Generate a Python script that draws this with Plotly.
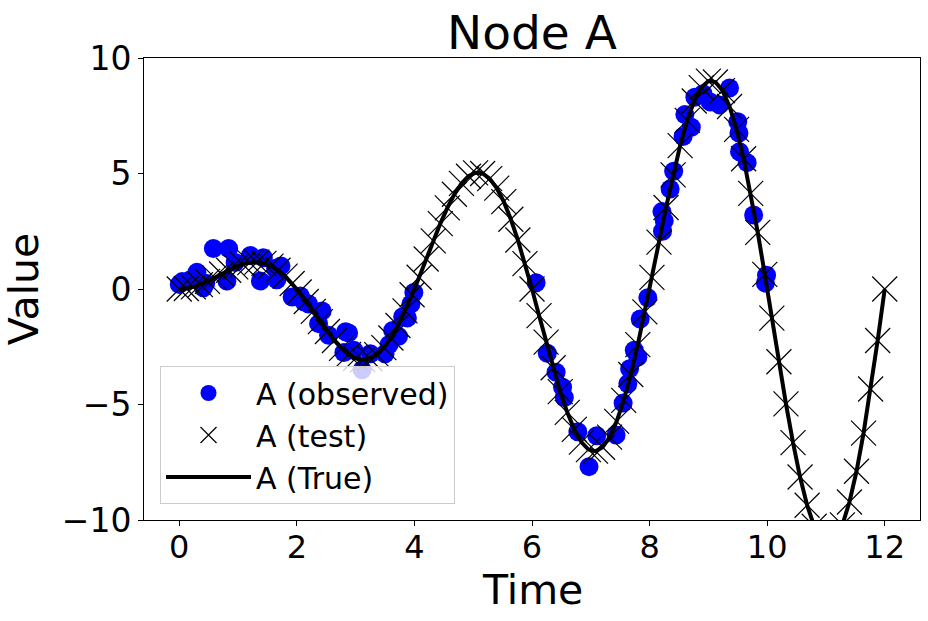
import plotly.graph_objects as go

# ---- data ----
obs_t = [0.00, 0.05, 0.19, 0.30, 0.41, 0.45, 0.58, 0.81, 0.84, 0.95,
         1.21, 1.38, 1.43, 1.64, 1.66, 1.73, 1.92, 2.06, 2.12, 2.20,
         2.37, 2.43, 2.54, 2.80, 2.83, 2.88, 2.97, 3.11, 3.25, 3.50,
         3.57, 3.63, 3.73, 3.80, 3.88, 3.94, 3.99,
         6.07, 6.26, 6.41, 6.52, 6.55, 6.78, 6.97, 7.10, 7.43, 7.55,
         7.63, 7.66, 7.74, 7.80, 7.84, 7.97, 8.21, 8.22, 8.25, 8.35,
         8.41, 8.57, 8.60, 8.71, 8.77, 8.91, 9.03, 9.19, 9.36, 9.50,
         9.52, 9.53, 9.66, 9.77, 9.97, 9.99]
obs_y = [0.20, 0.32, 0.40, 0.72, 0.05, 0.25, 1.75, 0.35, 1.75, 1.15,
         1.45, 0.35, 1.35, 0.90, 0.40, 1.00, -0.35, -0.30, -0.55, -0.65,
         -1.50, -0.95, -2.00, -2.75, -1.85, -1.90, -2.65, -3.50, -2.80, -2.80,
         -2.40, -1.80, -2.05, -1.20, -1.25, -0.65, -0.15,
         0.27, -2.78, -3.60, -4.25, -4.70, -6.18, -7.69, -6.35, -6.32, -4.94,
         -4.10, -3.45, -2.65, -2.95, -1.30, -0.38, 3.35, 2.50, 2.95, 4.33,
         5.10, 6.60, 7.55, 7.00, 8.30, 8.45, 8.10, 7.97, 8.70, 7.24,
         6.75, 5.94, 5.47, 3.20, 0.26, 0.60]

test_t = [0.00, 0.12, 0.24, 0.36, 0.48, 0.60, 0.72, 0.84, 0.96, 1.08,
          1.20, 1.32, 1.44, 1.56, 1.68, 1.80, 1.92, 2.04, 2.16, 2.28,
          2.40, 2.52, 2.64, 2.76, 2.88, 3.00, 3.12, 3.24, 3.36, 3.48,
          3.60, 3.72, 3.84, 3.96, 4.08, 4.20, 4.32, 4.44, 4.56, 4.68,
          4.80, 4.92, 5.04, 5.16, 5.28, 5.40, 5.52, 5.64, 5.76, 5.88,
          6.00, 6.12, 6.24, 6.36, 6.48, 6.60, 6.72, 6.84, 6.96, 7.08,
          7.20, 7.32, 7.44, 7.56, 7.68, 7.80, 7.92, 8.04, 8.16, 8.28,
          8.40, 8.52, 8.64, 8.76, 8.88, 9.00, 9.12, 9.24, 9.36, 9.48,
          9.60, 9.72, 9.84, 9.96, 10.08, 10.20, 10.32, 10.44, 10.56, 10.68,
          10.80, 10.92, 11.04, 11.16, 11.28, 11.40, 11.52, 11.64, 11.76, 11.88,
          12.00]
test_y = [0.00, 0.02, 0.09, 0.19, 0.33, 0.49, 0.65, 0.81, 0.96, 1.07,
          1.14, 1.16, 1.11, 0.99, 0.81, 0.56, 0.24, -0.13, -0.54, -0.97,
          -1.41, -1.84, -2.23, -2.57, -2.83, -3.00, -3.06, -3.01, -2.84, -2.54,
          -2.12, -1.58, -0.95, -0.25, 0.51, 1.30, 2.08, 2.83, 3.51, 4.10,
          4.57, 4.88, 5.03, 5.00, 4.78, 4.37, 3.78, 3.02, 2.12, 1.10,
          0.00, -1.15, -2.30, -3.41, -4.44, -5.34, -6.08, -6.63, -6.95, -7.02,
          -6.85, -6.41, -5.73, -4.82, -3.70, -2.41, -0.99, 0.50, 2.03, 3.53,
          4.94, 6.21, 7.30, 8.14, 8.72, 9.00, 8.96, 8.59, 7.90, 6.91,
          5.64, 4.14, 2.45, 0.63, -1.26, -3.15, -4.97, -6.65, -8.14, -9.36,
          -10.27, -10.83, -11.02, -10.81, -10.21, -9.22, -7.89, -6.24, -4.33, -2.23,
          0.00]

true_t = test_t
true_y = test_y

x_ticks = [0, 2, 4, 6, 8, 10, 12]
y_ticks = [-10, -5, 0, 5, 10]

FONT = "DejaVu Sans"

fig = go.Figure()
fig.add_trace(go.Scatter(
    x=obs_t, y=obs_y, mode="markers", name="A (observed)",
    marker=dict(symbol="circle", size=19, color="#0000ff", line=dict(width=0)),
))
fig.add_trace(go.Scatter(
    x=test_t, y=test_y, mode="markers", name="A (test)",
    marker=dict(symbol="x-thin", size=25, color="black",
                line=dict(width=1.2, color="black")),
))
fig.add_trace(go.Scatter(
    x=true_t, y=true_y, mode="lines", name="A (True)",
    line=dict(color="black", width=4),
))

axis_common = dict(
    showgrid=False, zeroline=False, showline=True, linecolor="black",
    linewidth=1, mirror=True, ticks="outside", ticklen=5, tickwidth=1,
    tickcolor="black",
)

fig.update_layout(
    width=928, height=621,
    margin=dict(l=144, r=8, t=58, b=101),
    paper_bgcolor="white", plot_bgcolor="white",
    font=dict(family=FONT, color="black"),
    title=dict(text="Node A", x=0.5, xanchor="center",
               xref="paper", yref="container", y=1 - 33 / 621, yanchor="middle",
               font=dict(size=47, family=FONT, color="black")),
    xaxis=dict(range=[-0.6, 12.6], tickvals=x_ticks, ticklabelstandoff=-6,
               tickfont=dict(size=32, color="black", family=FONT),
               **axis_common),
    yaxis=dict(range=[-10, 10], tickvals=y_ticks,
               tickfont=dict(size=33, color="black", family=FONT),
               title=dict(text="Value", font=dict(size=41, family=FONT), standoff=12),
               **axis_common),
    legend=dict(x=(160 - 144) / 776, y=(520 - 504) / 462, xanchor="left",
                yanchor="bottom", bgcolor="rgba(255,255,255,0.8)",
                bordercolor="#cccccc", borderwidth=1, itemwidth=85,
                tracegroupgap=0,
                font=dict(size=30, family=FONT, color="black")),
    showlegend=True,
    annotations=[dict(text="Time", xref="paper", yref="paper",
                      x=0.5, y=(520 - 590) / 462, xanchor="center",
                      yanchor="middle", showarrow=False,
                      font=dict(size=41, family=FONT, color="black"))],
)

fig.write_html("out.html", config={"displayModeBar": False},
               post_script="document.body.style.margin='0';document.body.style.overflow='hidden';")
